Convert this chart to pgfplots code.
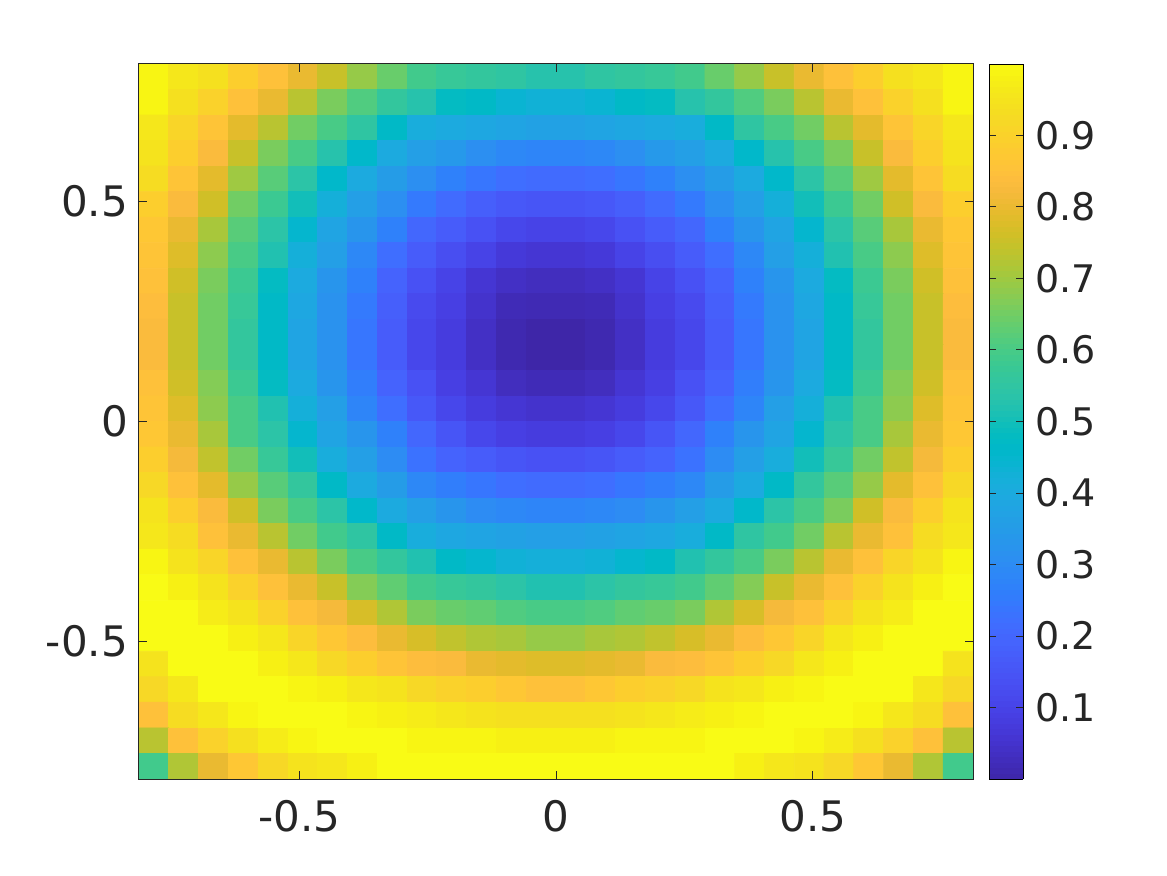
\documentclass[border=0pt]{standalone}
\usepackage{fontspec}
\setmainfont{DejaVu Sans}
\usepackage{pgfplots}
\pgfplotsset{compat=1.18}
\definecolor{axgray}{rgb}{0.15,0.15,0.15}
\pgfplotsset{colormap={parula}{
rgb=(.2422,.1504,.6603) rgb=(.2504,.1650,.7076) rgb=(.2578,.1818,.7511) rgb=(.2647,.1978,.7952)
rgb=(.2706,.2147,.8364) rgb=(.2751,.2342,.8710) rgb=(.2783,.2559,.8991) rgb=(.2803,.2782,.9221)
rgb=(.2813,.3006,.9414) rgb=(.2810,.3228,.9579) rgb=(.2795,.3447,.9717) rgb=(.2760,.3667,.9829)
rgb=(.2699,.3892,.9906) rgb=(.2602,.4123,.9952) rgb=(.2440,.4358,.9988) rgb=(.2206,.4603,.9973)
rgb=(.1963,.4847,.9892) rgb=(.1834,.5074,.9798) rgb=(.1786,.5289,.9682) rgb=(.1764,.5499,.9520)
rgb=(.1687,.5703,.9359) rgb=(.1540,.5902,.9218) rgb=(.1460,.6091,.9079) rgb=(.1380,.6276,.8973)
rgb=(.1248,.6459,.8883) rgb=(.1113,.6635,.8763) rgb=(.0952,.6798,.8598) rgb=(.0689,.6948,.8394)
rgb=(.0297,.7082,.8163) rgb=(.0036,.7203,.7917) rgb=(.0067,.7312,.7660) rgb=(.0433,.7411,.7394)
rgb=(.0964,.7500,.7120) rgb=(.1408,.7584,.6842) rgb=(.1717,.7670,.6554) rgb=(.1938,.7758,.6251)
rgb=(.2161,.7843,.5923) rgb=(.2470,.7918,.5567) rgb=(.2906,.7973,.5188) rgb=(.3406,.8008,.4789)
rgb=(.3909,.8029,.4354) rgb=(.4456,.8024,.3909) rgb=(.5044,.7993,.3480) rgb=(.5616,.7942,.3045)
rgb=(.6174,.7876,.2612) rgb=(.6720,.7793,.2227) rgb=(.7242,.7698,.1910) rgb=(.7738,.7598,.1646)
rgb=(.8203,.7498,.1535) rgb=(.8634,.7406,.1596) rgb=(.9035,.7330,.1774) rgb=(.9393,.7288,.2100)
rgb=(.9728,.7298,.2394) rgb=(.9956,.7434,.2371) rgb=(.9970,.7659,.2199) rgb=(.9952,.7861,.1990)
rgb=(.9892,.8073,.1795) rgb=(.9786,.8278,.1623) rgb=(.9676,.8495,.1474) rgb=(.9610,.8720,.1240)
rgb=(.9597,.8949,.1132) rgb=(.9628,.9209,.0956) rgb=(.9691,.9477,.0725) rgb=(.9769,.9839,.0805)
}}
\begin{document}
\begin{tikzpicture}
  % page is 1167x875 px at 0.5pt per px, axis lower left at px (139,779)
  \path[use as bounding box] (-69.5pt,-48pt) rectangle (514pt,389.5pt);
  \begin{axis}[
    at={(0,0)}, anchor=south west,
    scale only axis,
    width=417pt, height=357.5pt,
    xmin=-0.812, xmax=0.812, ymin=-0.812, ymax=0.812,
    xtick={-0.5,0,0.5}, ytick={-0.5,0,0.5},
    xticklabels={-0.5,0,0.5}, yticklabels={-0.5,0,0.5},
    tick align=inside, major tick length=4pt,
    axis line style={axgray, line width=0.5pt},
    tick style={axgray, line width=0.5pt},
    ticklabel style={text=axgray, font=\fontsize{21}{25}\selectfont},
    xticklabel shift=7pt,
    yticklabel shift=2pt,
    axis on top,
    colormap name=parula,
    point meta min=0, point meta max=1,
    colorbar sampled,
    colorbar style={
      at={(1.0192,1)}, anchor=north west,
      width=17pt,
      samples=129,
      ytick={0.1,0.2,0.3,0.4,0.5,0.6,0.7,0.8,0.9},
      yticklabels={0.1,0.2,0.3,0.4,0.5,0.6,0.7,0.8,0.9},
      tick align=inside, major tick length=3.5pt,
      yticklabel shift=2.5pt,
      ticklabel style={text=axgray, font=\fontsize{19}{23}\selectfont},
    },
  ]
    \addplot[matrix plot*, mesh/cols=28, point meta=explicit] table[
      row sep=\\,
      x expr={-0.783+0.058*mod(\coordindex,28)},
      y expr={0.783-0.058*floor((\coordindex+0.5)/28)},
      meta=z] {
z\\
.99\\.96\\.94\\.89\\.85\\.80\\.75\\.69\\.64\\.59\\.57\\.56\\.55\\.53\\.53\\.55\\.56\\.57\\.59\\.64\\.69\\.75\\.80\\.85\\.89\\.94\\.96\\.99\\
.99\\.94\\.90\\.85\\.80\\.73\\.66\\.61\\.56\\.53\\.48\\.47\\.44\\.43\\.43\\.44\\.47\\.48\\.53\\.56\\.61\\.66\\.73\\.80\\.85\\.90\\.94\\.99\\
.96\\.91\\.86\\.79\\.73\\.65\\.60\\.55\\.47\\.41\\.40\\.39\\.38\\.37\\.37\\.38\\.39\\.40\\.41\\.47\\.55\\.60\\.65\\.73\\.79\\.86\\.91\\.96\\
.95\\.89\\.83\\.75\\.66\\.60\\.53\\.46\\.40\\.36\\.34\\.31\\.29\\.28\\.28\\.29\\.31\\.34\\.36\\.40\\.46\\.53\\.60\\.66\\.75\\.83\\.89\\.95\\
.93\\.86\\.79\\.70\\.62\\.54\\.46\\.40\\.35\\.31\\.27\\.24\\.22\\.21\\.21\\.22\\.24\\.27\\.31\\.35\\.40\\.46\\.54\\.62\\.70\\.79\\.86\\.93\\
.89\\.83\\.76\\.65\\.58\\.50\\.42\\.36\\.31\\.25\\.21\\.18\\.16\\.15\\.15\\.16\\.18\\.21\\.25\\.31\\.36\\.42\\.50\\.58\\.65\\.76\\.83\\.89\\
.87\\.80\\.71\\.62\\.54\\.45\\.38\\.33\\.27\\.20\\.17\\.14\\.11\\.10\\.10\\.11\\.14\\.17\\.20\\.27\\.33\\.38\\.45\\.54\\.62\\.71\\.80\\.87\\
.86\\.78\\.68\\.60\\.52\\.42\\.36\\.29\\.22\\.17\\.13\\.10\\.07\\.06\\.06\\.07\\.10\\.13\\.17\\.22\\.29\\.36\\.42\\.52\\.60\\.68\\.78\\.86\\
.85\\.76\\.66\\.58\\.48\\.40\\.33\\.27\\.19\\.14\\.10\\.06\\.04\\.03\\.03\\.04\\.06\\.10\\.14\\.19\\.27\\.33\\.40\\.48\\.58\\.66\\.76\\.85\\
.84\\.75\\.65\\.57\\.47\\.39\\.32\\.25\\.18\\.12\\.09\\.05\\.02\\.015\\.015\\.02\\.05\\.09\\.12\\.18\\.25\\.32\\.39\\.47\\.57\\.65\\.75\\.84\\
.83\\.75\\.65\\.56\\.47\\.38\\.32\\.24\\.17\\.11\\.08\\.04\\.01\\.00\\.00\\.01\\.04\\.08\\.11\\.17\\.24\\.32\\.38\\.47\\.56\\.65\\.75\\.83\\
.83\\.75\\.65\\.56\\.47\\.38\\.32\\.24\\.17\\.11\\.08\\.04\\.01\\.00\\.00\\.01\\.04\\.08\\.11\\.17\\.24\\.32\\.38\\.47\\.56\\.65\\.75\\.83\\
.85\\.76\\.67\\.58\\.48\\.40\\.33\\.26\\.19\\.14\\.09\\.06\\.03\\.02\\.02\\.03\\.06\\.09\\.14\\.19\\.26\\.33\\.40\\.48\\.58\\.67\\.76\\.85\\
.86\\.78\\.68\\.60\\.52\\.42\\.36\\.28\\.22\\.16\\.11\\.08\\.06\\.05\\.05\\.06\\.08\\.11\\.16\\.22\\.28\\.36\\.42\\.52\\.60\\.68\\.78\\.86\\
.87\\.80\\.71\\.60\\.54\\.45\\.38\\.33\\.27\\.20\\.15\\.11\\.09\\.08\\.08\\.09\\.11\\.15\\.20\\.27\\.33\\.38\\.45\\.54\\.60\\.71\\.80\\.87\\
.89\\.82\\.74\\.65\\.57\\.50\\.41\\.36\\.30\\.23\\.19\\.17\\.15\\.14\\.14\\.15\\.17\\.19\\.23\\.30\\.36\\.41\\.50\\.57\\.65\\.74\\.82\\.89\\
.92\\.85\\.79\\.69\\.62\\.56\\.47\\.40\\.35\\.29\\.26\\.24\\.22\\.21\\.21\\.22\\.24\\.26\\.29\\.35\\.40\\.47\\.56\\.62\\.69\\.79\\.85\\.92\\
.95\\.89\\.83\\.76\\.66\\.60\\.54\\.46\\.40\\.36\\.33\\.30\\.29\\.28\\.28\\.29\\.30\\.33\\.36\\.40\\.46\\.54\\.60\\.66\\.76\\.83\\.89\\.95\\
.96\\.93\\.85\\.80\\.73\\.65\\.59\\.55\\.47\\.41\\.39\\.38\\.37\\.36\\.36\\.37\\.38\\.39\\.41\\.47\\.55\\.59\\.65\\.73\\.80\\.85\\.93\\.96\\
.99\\.95\\.91\\.85\\.80\\.73\\.66\\.60\\.56\\.52\\.47\\.45\\.43\\.42\\.42\\.43\\.45\\.47\\.52\\.56\\.60\\.66\\.73\\.80\\.85\\.91\\.95\\.99\\
1\\.98\\.95\\.90\\.85\\.80\\.75\\.67\\.63\\.59\\.57\\.56\\.54\\.52\\.52\\.54\\.56\\.57\\.59\\.63\\.67\\.75\\.80\\.85\\.90\\.95\\.98\\1\\
1\\1\\.97\\.95\\.90\\.85\\.82\\.77\\.72\\.66\\.64\\.63\\.61\\.60\\.60\\.61\\.63\\.64\\.66\\.72\\.77\\.82\\.85\\.90\\.95\\.97\\1\\1\\
1\\1\\1\\.98\\.96\\.91\\.87\\.84\\.80\\.77\\.74\\.72\\.71\\.69\\.69\\.71\\.72\\.74\\.77\\.80\\.84\\.87\\.91\\.96\\.98\\1\\1\\1\\
.95\\1\\1\\1\\.98\\.96\\.92\\.89\\.86\\.84\\.83\\.80\\.79\\.78\\.78\\.79\\.80\\.83\\.84\\.86\\.89\\.92\\.96\\.98\\1\\1\\1\\.95\\
.92\\.96\\1\\1\\1\\.99\\.98\\.96\\.95\\.92\\.90\\.89\\.87\\.85\\.85\\.87\\.89\\.90\\.92\\.95\\.96\\.98\\.99\\1\\1\\1\\.96\\.92\\
.85\\.93\\.96\\.99\\1\\1\\1\\.99\\.98\\.97\\.96\\.95\\.94\\.94\\.94\\.94\\.95\\.96\\.97\\.98\\.99\\1\\1\\1\\.99\\.96\\.93\\.85\\
.73\\.85\\.90\\.94\\.97\\.99\\1\\1\\1\\.99\\.99\\.99\\.98\\.98\\.98\\.98\\.99\\.99\\.99\\1\\1\\1\\.99\\.97\\.94\\.90\\.85\\.73\\
.59\\.72\\.80\\.87\\.92\\.95\\.96\\.98\\1\\1\\1\\1\\1\\1\\1\\1\\1\\1\\1\\1\\.98\\.96\\.95\\.92\\.87\\.80\\.72\\.59\\
};
  \end{axis}
\end{tikzpicture}
\end{document}
